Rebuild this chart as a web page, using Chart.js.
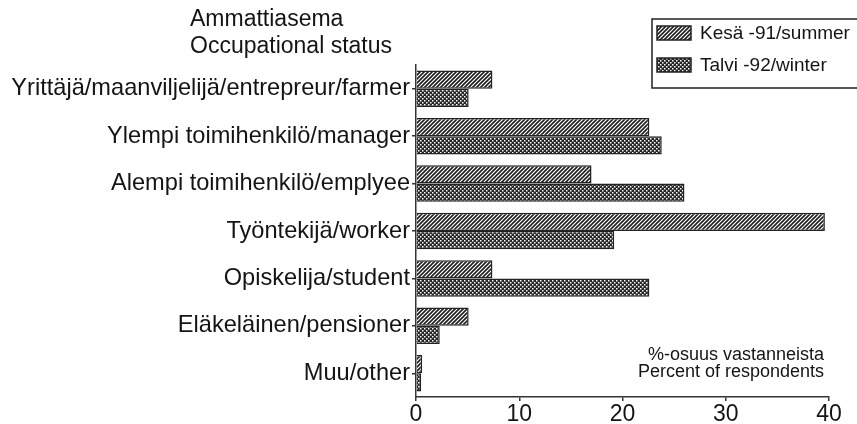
<!DOCTYPE html>
<html>
<head>
<meta charset="utf-8">
<script src="https://cdn.jsdelivr.net/npm/chart.js@4"></script>
<style>
  html, body { margin: 0; padding: 0; background: #fff; }
  #wrap { width: 857px; height: 424px; }
</style>
</head>
<body>
<div id="wrap"><canvas id="chart" width="857" height="424"></canvas></div>
<script>
// data
const categories = [
    'Yrittäjä/maanviljelijä/entrepreur/farmer',
    'Ylempi toimihenkilö/manager',
    'Alempi toimihenkilö/emplyee',
    'Työntekijä/worker',
    'Opiskelija/student',
    'Eläkeläinen/pensioner',
    'Muu/other'
];
const summer = [7.4, 22.6, 17.0, 39.6, 7.4, 5.1, 0.6];
const winter = [5.1, 23.8, 26.0, 19.2, 22.6, 2.3, 0.5];
const seriesLabels = ['Kesä -91/summer', 'Talvi -92/winter'];
const xTicks = [0, 10, 20, 30, 40];
const titleLines = ['Ammattiasema', 'Occupational status'];
const noteLines = ['%-osuus vastanneista', 'Percent of respondents'];

const FONT = '"Liberation Sans", Arial, sans-serif';
const INK = '#141414';

// hatch patterns
function hatchPattern() {
    const c = document.createElement('canvas');
    c.width = 4; c.height = 4;
    const g = c.getContext('2d');
    g.fillStyle = '#fff';
    g.fillRect(0, 0, 4, 4);
    g.strokeStyle = '#1e1e1e';
    g.lineWidth = 1.6;
    g.beginPath();
    g.moveTo(-1, 5); g.lineTo(5, -1);
    g.moveTo(-1, 1); g.lineTo(1, -1);
    g.moveTo(3, 5); g.lineTo(5, 3);
    g.stroke();
    return g.createPattern(c, 'repeat');
}
function dotPattern() {
    const c = document.createElement('canvas');
    c.width = 4; c.height = 4;
    const g = c.getContext('2d');
    g.fillStyle = '#262626';
    g.fillRect(0, 0, 4, 4);
    g.fillStyle = '#fff';
    g.fillRect(0, 0, 1.5, 1.5);
    g.fillRect(2, 2, 1.5, 1.5);
    return g.createPattern(c, 'repeat');
}

const textPlugin = {
    id: 'texts',
    afterDraw(chart) {
        const ctx = chart.ctx;
        ctx.save();
        ctx.fillStyle = INK;
        ctx.textBaseline = 'middle';
        // title
        ctx.font = '23px ' + FONT;
        ctx.textAlign = 'left';
        ctx.fillText(titleLines[0], 190, 20);
        ctx.fillText(titleLines[1], 190, 47);
        // note
        ctx.font = '18px ' + FONT;
        ctx.textAlign = 'right';
        ctx.fillText(noteLines[0], 824, 355);
        ctx.fillText(noteLines[1], 824, 372);
        // legend box
        ctx.strokeStyle = '#222';
        ctx.lineWidth = 1.5;
        ctx.strokeRect(652, 19, 215, 69);
        ctx.textAlign = 'left';
        ctx.font = '19px ' + FONT;
        chart.data.datasets.forEach((ds, i) => {
            const y = 26 + i * 32;
            ctx.fillStyle = ds.backgroundColor;
            ctx.fillRect(657, y, 34, 14);
            ctx.strokeRect(657, y, 34, 14);
            ctx.fillStyle = INK;
            ctx.fillText(ds.label, 700, y + 8);
        });
        ctx.restore();
    }
};

new Chart(document.getElementById('chart'), {
    type: 'bar',
    data: {
        labels: categories,
        datasets: [
            { label: seriesLabels[0], data: summer, backgroundColor: hatchPattern(), borderColor: '#222', borderWidth: 1.5 },
            { label: seriesLabels[1], data: winter, backgroundColor: dotPattern(), borderColor: '#222', borderWidth: 1.5 }
        ]
    },
    options: {
        indexAxis: 'y',
        responsive: false,
        animation: false,
        datasets: { bar: { categoryPercentage: 0.77, barPercentage: 1.0 } },
        layout: { padding: { left: 0, right: 28, top: 65, bottom: 0 } },
        plugins: { legend: { display: false }, tooltip: { enabled: false } },
        scales: {
            x: {
                min: 0, max: 40,
                afterBuildTicks: s => { s.ticks = xTicks.map(v => ({ value: v })); },
                afterFit: s => { s.height = 27; },
                border: { color: '#333', width: 1.5 },
                grid: { drawOnChartArea: false, tickLength: 4, color: '#333', lineWidth: 1.5 },
                ticks: { color: INK, font: { family: FONT, size: 23 }, padding: 0 }
            },
            y: {
                afterFit: s => { s.width = 416; },
                border: { color: '#333', width: 1.5 },
                grid: { offset: false, drawOnChartArea: false, tickLength: 4, color: '#333', lineWidth: 1.5 },
                ticks: { color: INK, font: { family: FONT, size: 23.6 }, padding: 2 }
            }
        }
    },
    plugins: [textPlugin]
});
</script>
</body>
</html>
